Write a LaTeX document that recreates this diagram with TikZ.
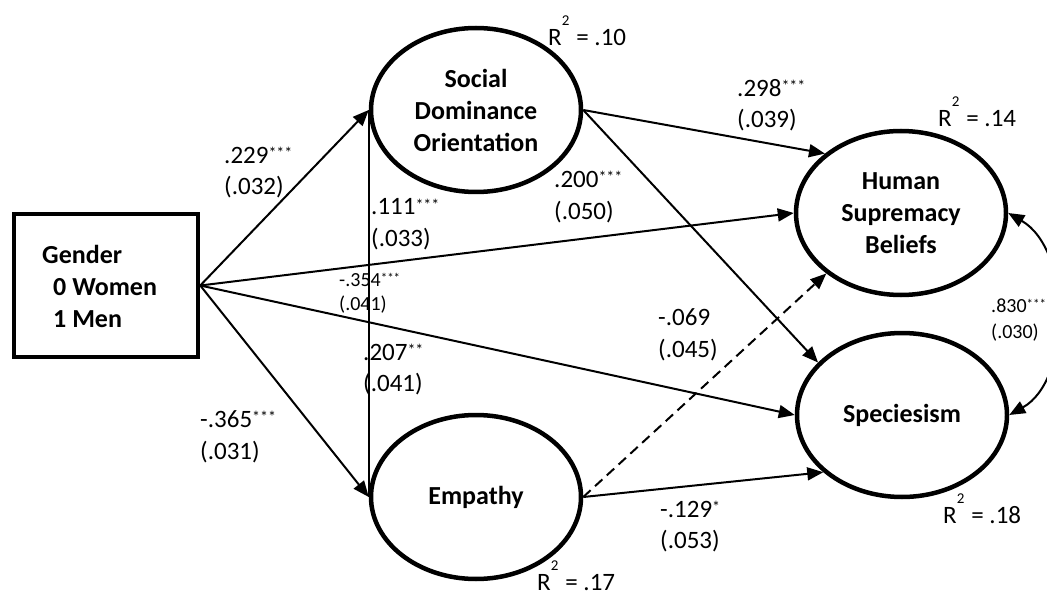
\documentclass[tikz,border=0pt]{standalone}
\usepackage{fontspec}
\setmainfont{Carlito}
\usetikzlibrary{shapes.geometric,arrows.meta}
\newcommand\sig[1]{\raisebox{5pt}{\fontsize{16}{16}\selectfont #1}}
\newcommand\ssig[1]{\raisebox{4pt}{\fontsize{13}{13}\selectfont #1}}
\newcommand\rsq[1]{R\raisebox{20pt}{\fontsize{15}{15}\selectfont 2}\hspace{7pt}= #1}
\begin{document}
\begin{tikzpicture}[x=1pt,y=-1pt,
  lat/.style={ellipse, draw, line width=4.5pt, minimum width=210pt, minimum height=164pt, inner sep=0pt, align=center, font=\fontsize{26}{32}\selectfont\bfseries},
  obs/.style={rectangle, draw, line width=4.5pt, minimum width=184pt, minimum height=143pt, inner sep=0pt},
  gtxt/.style={anchor=base west, inner sep=0pt, font=\fontsize{26}{32}\selectfont\bfseries},
  lab/.style={anchor=base west, inner sep=0pt, font=\fontsize{25}{30}\selectfont},
  slab/.style={anchor=base west, inner sep=0pt, font=\fontsize{20}{24}\selectfont},
  arr/.style={line width=2pt, -{Triangle[length=16pt,width=13pt]}},
  dbl/.style={line width=2pt, {Triangle[length=16pt,width=13pt]}-{Triangle[length=16pt,width=13pt]}},
]
\useasboundingbox (0,0) rectangle (1047,596);

% nodes
\node[obs] (gender) at (106,285.5) {};
\node[gtxt] (g1) at (42,263) {Gender};
\node[gtxt] (g2) at (53,295) {0 Women};
\node[gtxt] (g3) at (53,327) {1 Men};

\node[lat] (sdo) at (476,110) {Social\\Dominance\\Orientation};
\node[lat] (emp) at (476,497) {Empathy};
\node[lat] (hsb) at (901,213) {Human\\Supremacy\\Beliefs};
\node[lat] (spec) at (902,415) {Speciesism};

% connectors
\draw[line width=2pt] (sdo.west) -- (emp.west);
\draw[arr] (gender.east) -- (sdo.west);
\draw[arr] (gender.east) -- (emp.west);
\draw[arr] (gender.east) -- (hsb.west);
\draw[arr] (gender.east) -- (spec.west);
\draw[arr] (sdo.east) -- (hsb.142);
\draw[arr] (sdo.east) -- (spec.148);
\draw[arr, dash pattern=on 10pt off 6pt] (emp.east) -- (hsb.219);
\draw[arr] (emp.east) -- (spec.216);
\draw[dbl] (hsb.east) .. controls (1072,250) and (1072,380) .. (spec.east);

% path labels
\node[lab] (l1a) at (224,164) {.229\sig{***}};
\node[lab] (l1b) at (224,195) {(.032)};
\node[lab] (l2a) at (371,215) {.111\sig{***}};
\node[lab] (l2b) at (371,247) {(.033)};
\node[slab] (l3a) at (339,286) {-.354\ssig{***}};
\node[slab] (l3b) at (339,310) {(.041)};
\node[lab] (l4a) at (363,360) {.207\sig{**}};
\node[lab] (l4b) at (363,391) {(.041)};
\node[lab] (l5a) at (200,427) {-.365\sig{***}};
\node[lab] (l5b) at (200,459) {(.031)};
\node[lab] (l6a) at (737,97) {.298\sig{***}};
\node[lab] (l6b) at (737,128) {(.039)};
\node[lab] (l7a) at (554,188) {.200\sig{***}};
\node[lab] (l7b) at (554,220) {(.050)};
\node[lab] (l8a) at (658,325) {-.069};
\node[lab] (l8b) at (658,357) {(.045)};
\node[lab] (l9a) at (660,517) {-.129\sig{*}};
\node[lab] (l9b) at (660,548) {(.053)};
\node[slab] (l10a) at (991,312) {.830\ssig{***}};
\node[slab] (l10b) at (991,338) {(.030)};

% R squared
\node[lab] (r1) at (548,46) {\rsq{.10}};
\node[lab] (r2) at (938,127) {\rsq{.14}};
\node[lab] (r3) at (537,590) {\rsq{.17}};
\node[lab] (r4) at (943,523) {\rsq{.18}};
\end{tikzpicture}
\end{document}
